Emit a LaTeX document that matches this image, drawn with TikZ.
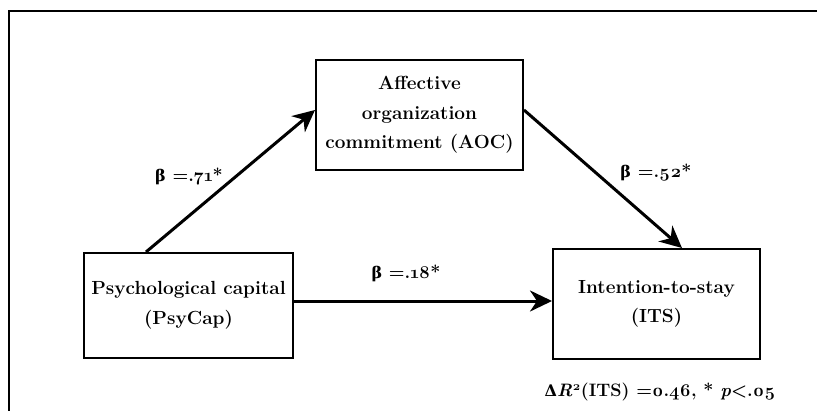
\documentclass[tikz,border=0pt]{standalone}
\usepackage{fontspec}
\setmainfont{Latin Modern Roman}[Numbers=OldStyle]
\newfontfamily\grk{DejaVu Serif}
\usetikzlibrary{arrows.meta}
\begin{document}
\begin{tikzpicture}[x=1pt,y=-1pt,
  box/.style={draw, line width=2pt, rectangle, inner sep=0pt, align=center,
    font=\fontsize{19}{29.5}\selectfont\bfseries},
  arr/.style={line width=3pt, -{Stealth[length=22pt,width=21pt,inset=7pt]}},
  lab/.style={font=\fontsize{18}{22}\selectfont\bfseries},
  frame/.style={line width=2.8pt}]
\useasboundingbox (0,0) rectangle (817,410);
\draw[frame] (9,412) -- (9,11) -- (819,11);
\node[box, minimum width=207pt, minimum height=110pt] (aoc) at (419.5,115)
  {Affective\\organization\\commitment (AOC)};
\node[box, minimum width=209pt, minimum height=105pt] (psy) at (188.5,305.5)
  {Psychological capital\\(PsyCap)};
\node[box, minimum width=207pt, minimum height=110pt] (its) at (656.5,304)
  {Intention-to-stay\\(ITS)};
\draw[arr] ([xshift=63pt]psy.north west) -- ([yshift=5pt]aoc.west);
\draw[arr] ([yshift=5pt]aoc.east) -- ([xshift=130pt]its.north west);
\draw[arr] ([yshift=4.5pt]psy.east) -- ([yshift=4.5pt]psy.east -| its.west);
\node[lab] (b1) at (189,177) {{\grk\fontsize{16}{20}\selectfont β} =.71*};
\node[lab] (b2) at (656,173) {{\grk\fontsize{16}{20}\selectfont β} =.52*};
\node[lab] (b3) at (406,273) {{\grk\fontsize{16}{20}\selectfont β} =.18*};
\node[lab] (r2) at (660,392) {{\grk\fontsize{16}{20}\selectfont Δ}\textit{R}\textsuperscript{2}(ITS) =0.46, * \textit{p}<.05};
\end{tikzpicture}
\end{document}
